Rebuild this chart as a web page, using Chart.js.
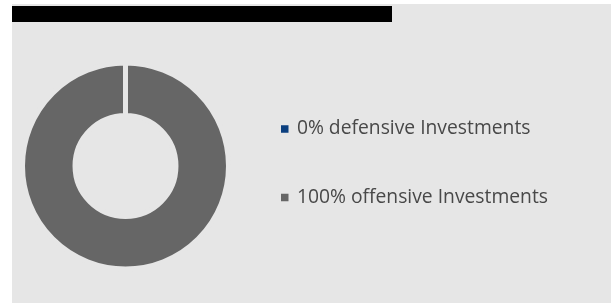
<!DOCTYPE html>
<html>
<head>
<meta charset="utf-8">
<script src="https://cdn.jsdelivr.net/npm/chart.js@4"></script>
<style>
  html, body { margin: 0; padding: 0; background: #ffffff; }
  body { width: 611px; height: 303px; position: relative; overflow: hidden; }
  #panel { position: absolute; left: 12px; top: 4px; width: 599px; height: 299px; background: #e6e6e6; }
  #bar { position: absolute; left: 12px; top: 6px; width: 380px; height: 16px; background: #000000; }
  #c { position: absolute; left: -27px; top: 0; }
</style>
</head>
<body>
<div id="panel"></div>
<div id="bar"></div>
<canvas id="c" width="700" height="303"></canvas>
<script>
const categories = ["defensive Investments", "offensive Investments"];
const values = [0, 100];
const sliceColors = ["#0b3f7f", "#666666"];
const legendLabels = values.map((v, i) => v + "% " + categories[i]);

const bg = "#e6e6e6";
const fontFamily = "'Open Sans', sans-serif";
const fontSize = 19.3;
const legendPad = 5;
const boxSize = 5;
const itemStep = 68.5;

const canvasW = 700;
const chartRight = 304.25;
const mctx = document.createElement("canvas").getContext("2d");
mctx.font = fontSize + "px " + fontFamily;
const maxTextW = Math.max(...legendLabels.map(t => mctx.measureText(t).width));
const legendW = legendPad + boxSize + fontSize / 2 + maxTextW + 10;
const padRight = canvasW - chartRight - legendW;

new Chart(document.getElementById("c"), {
  type: "doughnut",
  data: {
    labels: legendLabels,
    datasets: [{
      data: values,
      backgroundColor: sliceColors,
      borderColor: bg,
      borderWidth: 5,
      hoverBorderWidth: 5,
      hoverBackgroundColor: sliceColors,
      hoverBorderColor: bg
    }]
  },
  options: {
    responsive: false,
    devicePixelRatio: 1,
    animation: false,
    cutout: "49%",
    layout: { padding: { left: 0.75, right: padRight, top: 60.5, bottom: 31.5 } },
    plugins: {
      tooltip: { enabled: false },
      legend: {
        position: "right",
        align: "start",
        title: { display: true, text: " ", font: { size: 1, lineHeight: 1 }, padding: { top: 0, bottom: 52.85 } },
        labels: {
          boxWidth: boxSize,
          boxHeight: boxSize,
          padding: legendPad,
          color: "#484848",
          font: { family: fontFamily, size: fontSize, lineHeight: (itemStep - legendPad) + "px" },
          generateLabels: (chart) => {
            const base = Chart.overrides.doughnut.plugins.legend.labels.generateLabels(chart);
            return base.map(l => Object.assign(l, { text: [l.text], lineWidth: 2.5, strokeStyle: l.fillStyle }));
          }
        }
      }
    }
  }
});
</script>
</body>
</html>
